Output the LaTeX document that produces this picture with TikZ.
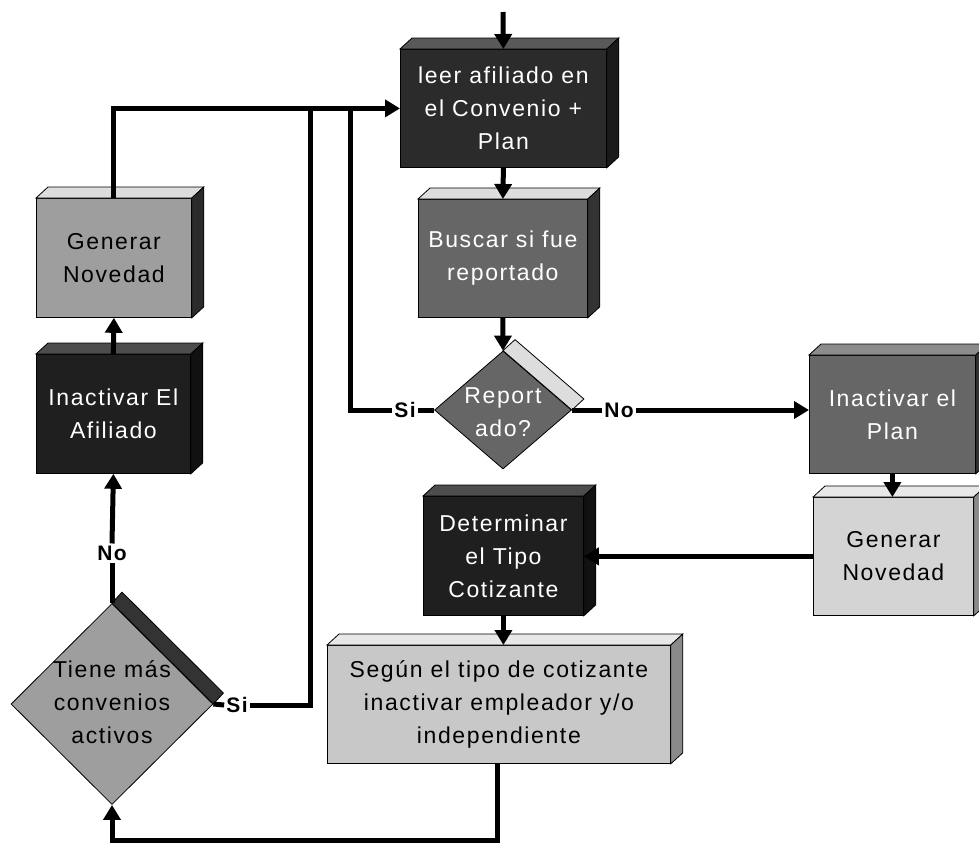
\documentclass[tikz,border=0pt]{standalone}
\usepackage{fontspec}
\setmainfont{Liberation Sans}[LetterSpace=7]
\usetikzlibrary{arrows.meta,shapes.geometric}
\definecolor{dA}{HTML}{2B2B2B}
\definecolor{dAtop}{HTML}{595959}
\definecolor{dAside}{HTML}{1A1A1A}
\definecolor{dB}{HTML}{1F1F1F}
\definecolor{dBtop}{HTML}{4D4D4D}
\definecolor{dBside}{HTML}{111111}
\definecolor{mid}{HTML}{666666}
\definecolor{midtop}{HTML}{DDDDDD}
\definecolor{midtopb}{HTML}{8C8C8C}
\definecolor{midside}{HTML}{333333}
\definecolor{lgt}{HTML}{D4D4D4}
\definecolor{lgtB}{HTML}{C8C8C8}
\definecolor{lgttop}{HTML}{E8E8E8}
\definecolor{lgtside}{HTML}{8A8A8A}
\definecolor{grey}{HTML}{9E9E9E}
\definecolor{greyside}{HTML}{2B2B2B}
\newcommand\cubefaces[3]{%
  \draw[face,fill=#2] (#1.north west) -- ([shift={(12,-11)}]#1.north west) -- ([shift={(12,-11)}]#1.north east) -- (#1.north east) -- cycle;
  \draw[face,fill=#3] (#1.north east) -- ([shift={(12,-11)}]#1.north east) -- ([shift={(12,-11)}]#1.south east) -- (#1.south east) -- cycle;}
\tikzset{
  box/.style={draw=black, line width=0.8pt, anchor=north west, inner sep=0pt, align=center, font=\fontsize{23}{33}\selectfont},
  face/.style={draw=black, line width=0.8pt},
  txt/.style={align=center, inner sep=0pt, font=\fontsize{23}{33}\selectfont},
  dia/.style={diamond, draw=black, line width=0.8pt, inner sep=0pt},
  conn/.style={line width=5pt},
  arr/.style={conn, -{Triangle[width=17pt,length=15pt]}},
  lbl/.style={font=\bfseries\fontsize{21}{21}\selectfont, inner sep=2pt},
}
\begin{document}
\begin{tikzpicture}[x=1pt,y=-1pt]
\clip (0,0) rectangle (979,852);
\fill[white] (0,0) rectangle (979,852);

% boxes
\node[box, fill=dA, text=white, minimum width=206pt, minimum height=118pt] (leer) at (400,49) {leer afiliado en\\el Convenio +\\Plan};
\cubefaces{leer}{dAtop}{dAside}
\node[box, fill=mid, text=white, minimum width=169pt, minimum height=118pt] (busc) at (418,199) {Buscar si fue\\reportado};
\cubefaces{busc}{midtop}{midside}
\node[box, fill=mid, text=white, minimum width=166pt, minimum height=118pt] (plan) at (809,355) {Inactivar el\\Plan};
\cubefaces{plan}{midtopb}{midside}
\node[box, fill=lgt, text=black, minimum width=160pt, minimum height=118pt] (genR) at (813,497) {Generar\\Novedad};
\cubefaces{genR}{lgttop}{lgtside}
\node[box, fill=dB, text=white, minimum width=160pt, minimum height=119pt] (det) at (423,496) {Determinar\\el Tipo\\Cotizante};
\cubefaces{det}{dBtop}{dBside}
\node[box, fill=lgtB, text=black, minimum width=343pt, minimum height=118pt] (seg) at (327,645) {Según el tipo de cotizante\\inactivar empleador y/o\\independiente};
\cubefaces{seg}{lgttop}{lgtside}
\node[box, fill=dB, text=white, minimum width=154pt, minimum height=119pt] (inaf) at (36,354) {Inactivar El\\Afiliado};
\cubefaces{inaf}{dBtop}{dBside}
\node[box, fill=grey, text=black, minimum width=155pt, minimum height=119pt] (genL) at (36,198) {Generar\\Novedad};
\cubefaces{genL}{midtop}{greyside}

% diamonds
\node[dia, fill=mid, minimum width=137pt, minimum height=118pt] (rep) at (503,410) {};
\draw[face, fill=midtop] (rep.north) -- ([shift={(12,-11)}]rep.north) -- ([shift={(12,-11)}]rep.east) -- (rep.east) -- cycle;
\node[txt, text=white] (reptxt) at (503,412) {Report\\ado?};
\node[dia, fill=grey, minimum width=202pt, minimum height=201pt] (tiene) at (112,704) {};
\draw[face, fill=midside] (tiene.north) -- ([shift={(10,-11)}]tiene.north) -- ([shift={(10,-11)}]tiene.east) -- (tiene.east) -- cycle;
\node[txt, text=black] (tienetxt) at (112,702) {Tiene más\\convenios\\activos};

% labels
\node[lbl] (si1) at (405,410) {Si};
\node[lbl] (no1) at (619,410) {No};
\node[lbl] (no2) at (112,553) {No};
\node[lbl] (si2) at (237,705) {Si};

% connectors
\coordinate (start) at (503,12);
\coordinate (j1) at (350,108);
\coordinate (j2) at (310,108);
\coordinate (b1) at (497,840);
\draw[arr] (start) -- (leer.north);
\draw[arr] (leer.south) -- (busc.north);
\draw[arr] (busc.south) -- (rep.north);
\draw[conn] (rep.west) -- (si1.east);
\draw[conn] (si1.west) -| (j1);
\draw[conn] (rep.east) -- (no1.west);
\draw[arr] (no1.east) -- (no1.east -| plan.west);
\draw[arr] (plan.south) -- (plan.south |- genR.north);
\draw[arr] (genR.west) -- (genR.west -| det.east);
\draw[arr] (det.south) -- (det.south |- seg.north);
\draw[arr] (seg.south -| b1) -- (b1) -| (tiene.south);
\draw[conn] (tiene.north) -- (no2.south);
\draw[arr] (no2.north) -- (inaf.south);
\draw[arr] (inaf.north) -- (genL.south);
\draw[arr] (genL.north) |- (leer.west);
\draw[conn] (tiene.east) -- (si2.west);
\draw[conn] (si2.east) -| (j2);
\end{tikzpicture}
\end{document}
